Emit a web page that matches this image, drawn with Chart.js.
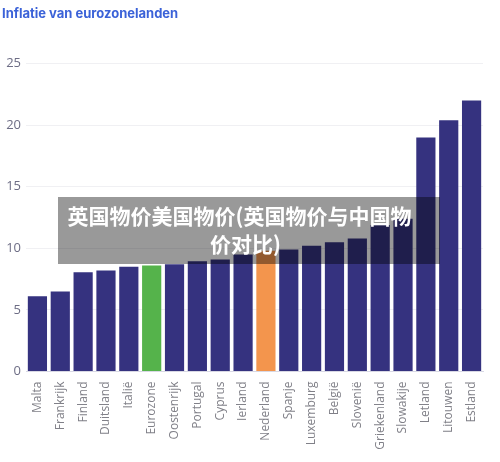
<!DOCTYPE html>
<html><head><meta charset="utf-8">
<script src="https://cdn.jsdelivr.net/npm/chart.js@4"></script>
<style>
html,body{margin:0;padding:0;background:#fff;width:500px;height:462px;overflow:hidden}
#wrap{position:relative;width:500px;height:462px}
#title{position:absolute;left:2px;top:5px;font:bold 13px "Inter","Liberation Sans",sans-serif;color:#3b62d8;white-space:nowrap}
#banner{position:absolute;left:58px;top:197px;width:382px;height:67px;background:rgba(0,0,0,.4);color:#fff;
font:bold 21px/28px "Noto Sans CJK SC",sans-serif;text-align:center;padding-top:4px;box-sizing:border-box;white-space:nowrap}
#banner span{display:block;position:relative}
#l1{left:-9.5px}
#l2{left:-3.5px}
canvas{position:absolute;left:0;top:0}
</style></head><body>
<div id="wrap">
<canvas id="c" width="500" height="462"></canvas>
<div id="title">Inflatie van eurozonelanden</div>
<div id="banner"><span id="l1">英国物价美国物价(英国物价与中国物</span><span id="l2">价对比)</span></div>
</div>
<script>
const categories=["Malta","Frankrijk","Finland","Duitsland","Italië","Eurozone","Oostenrijk","Portugal","Cyprus","Ierland","Nederland","Spanje","Luxemburg","België","Slovenië","Griekenland","Slowakije","Letland","Litouwen","Estland"];
const values=[6.1,6.5,8.05,8.2,8.5,8.6,8.7,8.95,9.1,9.5,9.8,9.9,10.2,10.5,10.8,11.9,12.4,19.0,20.4,22.0];
const barColors=categories.map(c=>c==="Eurozone"?"#55b34b":c==="Nederland"?"#f3954d":"#35327f");
const yTicks=[0,5,10,15,20,25];
new Chart(document.getElementById("c"),{
 type:"bar",
 data:{labels:categories,datasets:[{data:values,backgroundColor:barColors,barPercentage:0.84,categoryPercentage:1}]},
 options:{
  responsive:false,animation:false,devicePixelRatio:1,
  layout:{padding:{left:0,right:17,top:63.5,bottom:0}},
  plugins:{legend:{display:false},title:{display:false},tooltip:{enabled:false}},
  scales:{
   y:{min:0,max:25,afterFit(s){s.width=26},
      afterBuildTicks(s){s.ticks=yTicks.map(v=>({value:v}))},
      grid:{color:"#f0f0f3",lineWidth:1,drawTicks:false},border:{display:false},
      ticks:{color:"#6d6d85",padding:5,font:{family:"Open Sans",size:13}}},
   x:{afterFit(s){s.height=90.5},
      grid:{display:false},border:{color:"#d8d8e4"},
      ticks:{color:"#808088",autoSkip:false,maxRotation:90,minRotation:90,padding:2,font:{family:"Open Sans",size:12}}}
  }
 }
});
</script>
</body></html>
